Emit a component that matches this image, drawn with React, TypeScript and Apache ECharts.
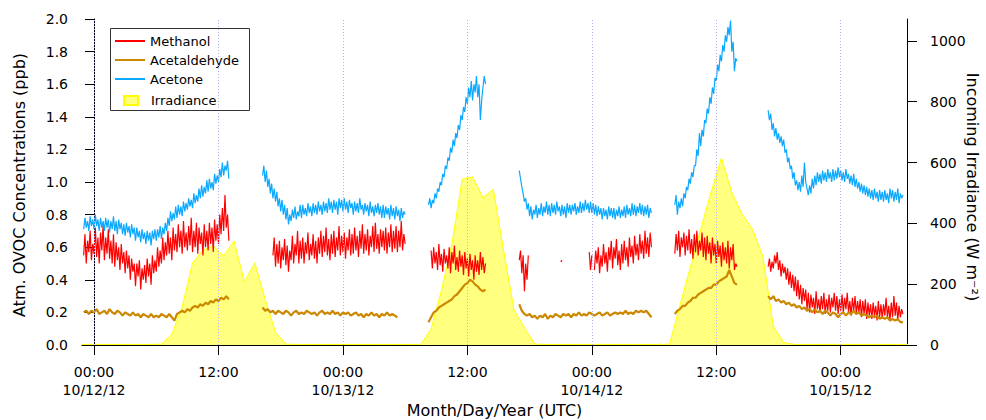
import React, { useEffect, useRef } from 'react';
import * as echarts from 'echarts';

// Time is expressed in hours since 10/12/12 00:00 UTC.
const X_MIN = -1.16;
const X_MAX = 78.39;

const TICK_HOURS = [0, 12, 24, 36, 48, 60, 72];
const TICK_LABELS = ['00:00\n10/12/12', '12:00', '00:00\n10/13/12', '12:00', '00:00\n10/14/12', '12:00', '00:00\n10/15/12'];

const CONC_TICKS = [0, 0.2, 0.4, 0.6, 0.8, 1.0, 1.2, 1.4, 1.6, 1.8, 2.0];
const IRR_TICKS = [0, 200, 400, 600, 800, 1000];

// Each run: [start hour, sample step (h), values in ppb]
type Run = [number, number, number[]];

const METHANOL: Run[] = [
  [-1, 0.125, [
    0.55, 0.68, 0.5, 0.64, 0.57, 0.7, 0.52, 0.62,
    0.56, 0.72, 0.54, 0.66, 0.5, 0.69, 0.58, 0.74,
    0.52, 0.66, 0.56, 0.71, 0.53, 0.64, 0.5, 0.68,
    0.48, 0.63, 0.52, 0.6, 0.46, 0.62, 0.5, 0.57,
    0.44, 0.58, 0.47, 0.55, 0.4, 0.53, 0.45, 0.5,
    0.36, 0.5, 0.42, 0.52, 0.34, 0.47, 0.4, 0.49,
    0.38, 0.53, 0.42, 0.5, 0.37, 0.55, 0.44, 0.52,
    0.45, 0.6, 0.48, 0.58, 0.5, 0.66, 0.52, 0.63,
    0.55, 0.7, 0.56, 0.66, 0.52, 0.72, 0.58, 0.68,
    0.57, 0.74, 0.6, 0.7, 0.56, 0.76, 0.6, 0.69,
    0.58, 0.73, 0.61, 0.78, 0.57, 0.7, 0.6, 0.75,
    0.56, 0.72, 0.62, 0.69, 0.55, 0.74, 0.6, 0.7,
    0.58, 0.75, 0.62, 0.72, 0.57, 0.77, 0.64, 0.74,
    0.62, 0.8, 0.68, 0.84, 0.7, 0.92, 0.72, 0.8,
    0.64,
  ]],
  [17.25, 0.125, [
    0.55, 0.66, 0.48, 0.62, 0.5, 0.64,
    0.47, 0.6, 0.52, 0.65, 0.49, 0.61, 0.45, 0.58,
    0.52, 0.67, 0.5, 0.62, 0.55, 0.7, 0.5, 0.64,
    0.53, 0.66, 0.5, 0.63, 0.56, 0.69, 0.52, 0.62,
    0.55, 0.68, 0.53, 0.64, 0.5, 0.66, 0.56, 0.7,
    0.54, 0.67, 0.57, 0.72, 0.55, 0.65, 0.52, 0.68,
    0.56, 0.7, 0.54, 0.66, 0.58, 0.73, 0.55, 0.67,
    0.57, 0.69, 0.53, 0.66, 0.58, 0.71, 0.55, 0.68,
    0.56, 0.72, 0.58, 0.67, 0.54, 0.7, 0.59, 0.74,
    0.56, 0.68, 0.58, 0.71, 0.55, 0.67, 0.6, 0.73,
    0.57, 0.75, 0.59, 0.68, 0.56, 0.71, 0.6, 0.7,
    0.58, 0.72, 0.56, 0.69, 0.6, 0.74, 0.57, 0.7,
    0.59, 0.73, 0.57, 0.7, 0.6, 0.76, 0.58, 0.68,
    0.62,
  ]],
  [32.5, 0.125, [
    0.58, 0.47, 0.6, 0.5,
    0.57, 0.46, 0.62, 0.49, 0.56, 0.45, 0.59, 0.5,
    0.55, 0.47, 0.6, 0.44, 0.57, 0.5, 0.61, 0.46,
    0.54, 0.45, 0.58, 0.48, 0.55, 0.43, 0.57, 0.47,
    0.53, 0.42, 0.56, 0.46, 0.52, 0.4, 0.55, 0.45,
    0.52, 0.43, 0.57, 0.46, 0.54, 0.44, 0.5,
  ]],
  [41.0, 0.125, [0.52, 0.58, 0.44, 0.55, 0.33, 0.5, 0.4, 0.55]],
  [45.0, 0.125, [0.51, 0.52]],
  [47.75, 0.125, [0.57, 0.46, 0.55]],
  [48.25, 0.125, [
    0.46, 0.58, 0.5, 0.6, 0.44, 0.55,
    0.48, 0.62, 0.5, 0.57, 0.45, 0.6, 0.52, 0.64,
    0.47, 0.6, 0.53, 0.65, 0.49, 0.58, 0.46, 0.62,
    0.5, 0.64, 0.52, 0.6, 0.48, 0.66, 0.54, 0.61,
    0.5, 0.67, 0.55, 0.62, 0.52, 0.68, 0.56, 0.64,
    0.53, 0.7, 0.56, 0.66, 0.54, 0.69, 0.6,
  ]],
  [56.0, 0.125, [
    0.56, 0.68, 0.58, 0.7, 0.54, 0.66, 0.6, 0.69,
    0.55, 0.67, 0.58, 0.71, 0.56, 0.65, 0.53, 0.68,
    0.57, 0.7, 0.55, 0.64, 0.58, 0.69, 0.54, 0.66,
    0.52, 0.67, 0.56, 0.63, 0.5, 0.66, 0.55, 0.62,
    0.5, 0.64, 0.54, 0.61, 0.48, 0.63, 0.52, 0.6,
    0.5, 0.64, 0.47, 0.6, 0.52, 0.62, 0.46, 0.5,
    0.48,
  ]],
  [65.0, 0.125, [
    0.48, 0.53, 0.45, 0.51, 0.47, 0.55, 0.5, 0.57,
    0.46, 0.52, 0.42, 0.5, 0.44, 0.48, 0.4, 0.47,
    0.37, 0.45, 0.35, 0.43, 0.33, 0.42, 0.3, 0.4,
    0.28, 0.37, 0.25, 0.35, 0.27, 0.34, 0.22, 0.32,
    0.2, 0.31, 0.23, 0.29, 0.19, 0.33, 0.22, 0.28,
    0.2, 0.3, 0.22, 0.32, 0.19, 0.28, 0.21, 0.31,
    0.2, 0.29, 0.23, 0.32, 0.21, 0.3, 0.19, 0.28,
    0.21, 0.31, 0.2, 0.29, 0.22, 0.32, 0.2, 0.27,
    0.18, 0.29, 0.21, 0.3, 0.19, 0.27, 0.2, 0.28,
    0.17, 0.27, 0.19, 0.28, 0.16, 0.26, 0.18, 0.25,
    0.16, 0.26, 0.18, 0.24, 0.15, 0.27, 0.17, 0.25,
    0.16, 0.25, 0.18, 0.29, 0.17, 0.24, 0.15, 0.26,
    0.17, 0.3, 0.18, 0.26, 0.15, 0.24, 0.17, 0.22,
    0.19,
  ]],
];

const ACETALDEHYDE: Run[] = [
  [-1, 0.25, [0.2, 0.21, 0.19, 0.21, 0.2, 0.22, 0.19, 0.2, 0.21, 0.19, 0.22, 0.2, 0.19, 0.21, 0.2, 0.18, 0.2, 0.19, 0.18, 0.2, 0.18, 0.19, 0.17, 0.19, 0.18, 0.17, 0.19, 0.17, 0.18, 0.17, 0.19, 0.18, 0.17, 0.19, 0.17, 0.15, 0.19, 0.2, 0.21, 0.2, 0.22, 0.21, 0.23, 0.24, 0.23, 0.25, 0.24, 0.26, 0.25, 0.27, 0.26, 0.28, 0.27, 0.29, 0.28, 0.3, 0.28]],
  [16.25, 0.25, [0.23, 0.21, 0.22, 0.2, 0.21, 0.19, 0.21, 0.2, 0.19, 0.21, 0.2, 0.18, 0.2, 0.21, 0.19, 0.2, 0.19, 0.21, 0.2, 0.19, 0.2, 0.18, 0.2, 0.21, 0.19, 0.2, 0.19, 0.21, 0.19, 0.2, 0.18, 0.2, 0.19, 0.2, 0.18, 0.19, 0.2, 0.18, 0.19, 0.17, 0.19, 0.18, 0.2, 0.18, 0.19, 0.17, 0.19, 0.18, 0.2, 0.18, 0.19, 0.18, 0.17]],
  [32.25, 0.25, [0.14, 0.17, 0.2, 0.21, 0.23, 0.24, 0.25, 0.26, 0.27, 0.28, 0.3, 0.31, 0.33, 0.35, 0.37, 0.38, 0.4, 0.39, 0.37, 0.36, 0.34, 0.33, 0.34]],
  [41.0, 0.25, [0.25, 0.21, 0.19, 0.18, 0.19, 0.17, 0.18, 0.16, 0.18, 0.17, 0.19, 0.16, 0.18, 0.17, 0.19, 0.18, 0.17, 0.19, 0.18, 0.19, 0.17, 0.19, 0.18, 0.2, 0.18, 0.19, 0.18, 0.2, 0.19, 0.18, 0.19, 0.2, 0.18, 0.19, 0.2, 0.18, 0.19, 0.2, 0.19, 0.2, 0.19, 0.21, 0.19, 0.2, 0.19, 0.21, 0.2, 0.21, 0.2, 0.21, 0.19, 0.17]],
  [56.0, 0.25, [0.19, 0.21, 0.22, 0.24, 0.24, 0.26, 0.27, 0.29, 0.29, 0.31, 0.32, 0.33, 0.34, 0.35, 0.35, 0.37, 0.37, 0.39, 0.4, 0.41, 0.42, 0.46, 0.42, 0.38, 0.37]],
  [65.0, 0.25, [0.3, 0.28, 0.3, 0.27, 0.28, 0.26, 0.27, 0.25, 0.26, 0.24, 0.25, 0.23, 0.24, 0.22, 0.23, 0.21, 0.22, 0.2, 0.22, 0.2, 0.21, 0.19, 0.21, 0.2, 0.18, 0.2, 0.19, 0.17, 0.19, 0.2, 0.18, 0.2, 0.19, 0.21, 0.19, 0.2, 0.18, 0.19, 0.18, 0.17, 0.18, 0.17, 0.18, 0.16, 0.17, 0.16, 0.17, 0.15, 0.16, 0.15, 0.16, 0.14, 0.14]],
];

const ACETONE: Run[] = [
  [-1, 0.125, [
    0.71, 0.78, 0.72, 0.76, 0.7, 0.79, 0.73, 0.77,
    0.71, 0.8, 0.73, 0.77, 0.7, 0.78, 0.72, 0.76,
    0.7, 0.78, 0.72, 0.77, 0.69, 0.76, 0.71, 0.79,
    0.7, 0.76, 0.68, 0.77, 0.71, 0.75, 0.68, 0.74,
    0.67, 0.75, 0.69, 0.73, 0.66, 0.74, 0.68, 0.72,
    0.64, 0.72, 0.66, 0.7, 0.63, 0.71, 0.65, 0.69,
    0.62, 0.7, 0.64, 0.69, 0.61, 0.7, 0.65, 0.71,
    0.64, 0.71, 0.66, 0.73, 0.65, 0.72, 0.68, 0.75,
    0.7, 0.78, 0.73, 0.82, 0.76, 0.81, 0.77, 0.85,
    0.78, 0.86, 0.8, 0.85, 0.79, 0.88, 0.82, 0.87,
    0.83, 0.9, 0.85, 0.89, 0.84, 0.93, 0.87, 0.92,
    0.88, 0.96, 0.9, 0.98, 0.91, 0.97, 0.93, 1.01,
    0.94, 1.02, 0.96, 1.0, 0.95, 1.05, 0.99, 1.04,
    1.0, 1.08, 1.03, 1.12, 1.04, 1.1, 1.07, 1.13,
    1.02,
  ]],
  [16.25, 0.125, [
    1.04, 1.1, 1.0, 1.07, 0.97, 1.02,
    0.93, 0.99, 0.9, 0.96, 0.88, 0.94, 0.85, 0.9,
    0.82, 0.89, 0.8, 0.86, 0.77, 0.84, 0.74, 0.8,
    0.76, 0.83, 0.78, 0.85, 0.77, 0.82, 0.79, 0.86,
    0.78, 0.86, 0.8, 0.84, 0.79, 0.87, 0.81, 0.85,
    0.79, 0.87, 0.81, 0.86, 0.8, 0.88, 0.82, 0.86,
    0.8, 0.88, 0.82, 0.87, 0.81, 0.9, 0.83, 0.88,
    0.81, 0.89, 0.83, 0.88, 0.8, 0.9, 0.84, 0.89,
    0.82, 0.9, 0.83, 0.88, 0.81, 0.89, 0.84, 0.87,
    0.8, 0.88, 0.82, 0.87, 0.81, 0.9, 0.83, 0.86,
    0.8, 0.87, 0.82, 0.86, 0.79, 0.88, 0.81, 0.85,
    0.79, 0.86, 0.81, 0.87, 0.8, 0.85, 0.78, 0.86,
    0.78, 0.85, 0.8, 0.84, 0.77, 0.86, 0.79, 0.84,
    0.77, 0.85, 0.79, 0.83, 0.76, 0.84, 0.78, 0.82,
    0.8,
  ]],
  [32.25, 0.125, [
    0.86, 0.9, 0.84, 0.89, 0.87, 0.93,
    0.9, 0.96, 0.94, 1.0, 0.98, 1.05, 1.03, 1.1,
    1.08, 1.15, 1.13, 1.21, 1.18, 1.26, 1.22, 1.3,
    1.27, 1.35, 1.32, 1.41, 1.38, 1.46, 1.43, 1.52,
    1.48, 1.58, 1.52, 1.62, 1.5, 1.6, 1.55, 1.65,
    1.52, 1.6, 1.38, 1.5, 1.58, 1.65, 1.6,
  ]],
  [41.0, 0.125, [
    1.07, 1.02, 0.97, 0.93, 0.88, 0.9, 0.83, 0.87,
    0.79, 0.85, 0.77, 0.83, 0.8, 0.86, 0.78, 0.84,
    0.8, 0.87, 0.79, 0.85, 0.81, 0.88, 0.8, 0.86,
    0.79, 0.87, 0.81, 0.86, 0.8, 0.88, 0.82, 0.85,
    0.79, 0.86, 0.8, 0.85, 0.78, 0.87, 0.81, 0.86,
    0.8, 0.86, 0.82, 0.87, 0.8, 0.85, 0.81, 0.88,
    0.81, 0.87, 0.82, 0.89, 0.83, 0.87, 0.81, 0.88,
    0.81, 0.87, 0.8, 0.86, 0.79, 0.85, 0.8, 0.84,
    0.77, 0.84, 0.79, 0.83, 0.77, 0.85, 0.79, 0.84,
    0.78, 0.84, 0.77, 0.83, 0.79, 0.85, 0.78, 0.83,
    0.79, 0.85, 0.78, 0.86, 0.8, 0.84, 0.79, 0.87,
    0.8, 0.86, 0.79, 0.85, 0.81, 0.87, 0.8, 0.86,
    0.79, 0.85, 0.8, 0.86, 0.78, 0.84, 0.81,
  ]],
  [56.0, 0.125, [
    0.86, 0.92, 0.8, 0.88, 0.84, 0.9, 0.85, 0.93,
    0.9, 0.97, 0.95, 1.02, 0.99, 1.06, 1.03, 1.1,
    1.1, 1.2, 1.16, 1.3, 1.22, 1.32, 1.28, 1.38,
    1.36, 1.45, 1.42, 1.52, 1.48, 1.58, 1.54, 1.64,
    1.62, 1.72, 1.68, 1.78, 1.74, 1.84, 1.8, 1.9,
    1.86, 1.95, 1.9, 1.99, 1.8, 1.86, 1.68, 1.76,
    1.74,
  ]],
  [65.0, 0.125, [
    1.44, 1.38, 1.42, 1.32, 1.36, 1.28, 1.33, 1.26,
    1.3, 1.24, 1.28, 1.22, 1.26, 1.18, 1.2, 1.12,
    1.15, 1.08, 1.1, 1.02, 1.06, 0.98, 1.01, 0.95,
    1.0, 0.94, 1.04, 0.97, 1.12, 1.0, 0.96, 0.92,
    0.98, 0.93, 1.02, 0.96, 1.04, 0.98, 1.06, 1.0,
    1.05, 0.99, 1.07, 1.01, 1.06, 1.0, 1.08, 1.02,
    1.06, 1.0, 1.08, 1.01, 1.07, 1.02, 1.09, 1.03,
    1.07, 1.01, 1.06, 1.0, 1.08, 1.02, 1.05, 0.99,
    1.04, 0.98, 1.05, 0.97, 1.02, 0.96, 1.0, 0.94,
    0.99, 0.93, 0.98, 0.92, 0.97, 0.91, 0.96, 0.9,
    0.95, 0.89, 0.96, 0.9, 0.94, 0.88, 0.95, 0.89,
    0.94, 0.88, 0.95, 0.89, 0.93, 0.87, 0.96, 0.9,
    0.95, 0.88, 0.94, 0.89, 0.96, 0.87, 0.93, 0.9,
    0.92,
  ]],
];

// Hourly incoming irradiance (W m-2), first value at -1.5 h
const IRR_START = -1.5;
const IRR_STEP = 1;
const IRRADIANCE = [
  2, 2, 2, 2, 2, 2, 2, 2, 3, 35, 125, 270, 312, 326, 293, 342, 208, 270, 150, 42, 3,
  2, 2, 2, 2, 2, 2, 2, 2, 2, 2, 2, 2,
  2, 52, 180, 330, 545, 553, 485, 512, 310, 115, 57, 3,
  2, 2, 2, 2, 2, 2, 2, 2, 2, 2,
  2, 2, 3, 131, 256, 381, 503, 615, 501, 430, 380, 290, 62, 8,
  2, 2, 2, 2, 2, 2, 2, 2, 2, 2, 2, 2,
];

const FONT = 'DejaVu Sans';
const COLORS = {
  methanol: '#ff0000',
  acetaldehyde: '#cc8800',
  acetone: '#0aa8ff',
  irrLine: '#ffff00',
  irrFill: '#ffff80',
  grid: '#b4b4f4',
};

function runsToData(runs: Run[]) {
  const out: (number | string)[][] = [];
  runs.forEach(([start, step, vals], k) => {
    if (k > 0) out.push([start - step / 2, '-']);
    vals.forEach((v, i) => out.push([start + i * step, v]));
  });
  return out;
}

const irrData = IRRADIANCE.map((v, i) => [IRR_START + i * IRR_STEP, v]);

const lineSeries = (name: string, runs: Run[], color: string, width: number) => ({
  name,
  type: 'line',
  data: runsToData(runs),
  showSymbol: false,
  symbol: 'none',
  connectNulls: false,
  z: 3,
  lineStyle: { color, width },
  itemStyle: { color },
});

const axisText = { fontFamily: FONT, color: '#000', fontSize: 14 };
const lineIcon = 'path://M0,0L30,0L30,2L0,2Z';

const option = {
  animation: false,
  backgroundColor: '#ffffff',
  textStyle: { fontFamily: FONT, color: '#000' },
  grid: { left: 82, right: 79, top: 19, bottom: 75, containLabel: false, outerBoundsMode: 'none' },
  legend: [
    {
      data: [
        { name: 'Methanol', icon: lineIcon },
        { name: 'Acetaldehyde', icon: lineIcon },
        { name: 'Acetone', icon: lineIcon },
      ],
      orient: 'vertical',
      left: 115,
      top: 34,
      padding: 0,
      itemWidth: 30,
      itemHeight: 14,
      itemGap: 5,
      selectedMode: false,
      textStyle: { fontFamily: FONT, fontSize: 13, color: '#000', lineHeight: 14 },
    },
    {
      data: [
        {
          name: 'Irradiance',
          icon: 'rect',
          itemStyle: { color: COLORS.irrFill, borderColor: COLORS.irrLine, borderWidth: 2 },
        },
      ],
      orient: 'vertical',
      left: 123,
      top: 93.5,
      padding: 0,
      itemWidth: 14,
      itemHeight: 9,
      selectedMode: false,
      textStyle: { fontFamily: FONT, fontSize: 13, color: '#000', lineHeight: 14, padding: [0, 0, 0, 8] },
    },
  ],
  graphic: [
    {
      type: 'rect',
      silent: true,
      z: 10,
      shape: { x: 110.5, y: 28.5, width: 139, height: 82 },
      style: { fill: 'none', stroke: '#333', lineWidth: 1 },
    },
  ],
  xAxis: {
    type: 'value',
    min: X_MIN,
    max: X_MAX,
    offset: 2,
    axisLine: { show: true, lineStyle: { color: '#000', width: 1 } },
    axisTick: { show: true, customValues: TICK_HOURS, length: 10, lineStyle: { color: '#000' } },
    axisLabel: {
      ...axisText,
      customValues: TICK_HOURS,
      margin: 16,
      lineHeight: 18,
      formatter: (v: number) => {
        const i = TICK_HOURS.indexOf(v);
        return i >= 0 ? TICK_LABELS[i] : '';
      },
    },
    splitLine: { show: false },
    name: 'Month/Day/Year (UTC)',
    nameLocation: 'middle',
    nameGap: 55,
    nameMoveOverlap: false,
    nameTextStyle: { fontFamily: FONT, fontSize: 16, color: '#000' },
  },
  yAxis: [
    {
      type: 'value',
      position: 'left',
      min: 0,
      max: 2,
      axisLine: { show: true, lineStyle: { color: '#000', width: 1 } },
      axisTick: { show: true, customValues: CONC_TICKS, length: 9, lineStyle: { color: '#000' } },
      axisLabel: { ...axisText, customValues: CONC_TICKS, margin: 14, formatter: (v: number) => v.toFixed(1) },
      splitLine: { show: false },
      name: 'Atm. OVOC Concentrations (ppb)',
      nameLocation: 'middle',
      nameGap: 55,
      nameMoveOverlap: false,
      nameTextStyle: { fontFamily: FONT, fontSize: 16, color: '#000', padding: [0, 6, 0, 0] },
    },
    {
      type: 'value',
      position: 'right',
      min: 0,
      max: 1072,
      axisLine: { show: true, lineStyle: { color: '#000', width: 1 } },
      axisTick: { show: true, customValues: IRR_TICKS, length: 10, lineStyle: { color: '#000' } },
      axisLabel: { ...axisText, customValues: IRR_TICKS, margin: 23, formatter: (v: number) => String(v) },
      splitLine: { show: false },
      name: 'Incoming Irradiance (W m⁻²)',
      nameLocation: 'middle',
      nameRotate: -90,
      nameGap: 57,
      nameMoveOverlap: false,
      nameTextStyle: { fontFamily: FONT, fontSize: 16, color: '#000', padding: [0, 0, 0, 10] },
    },
  ],
  series: [
    {
      name: 'gridlines',
      type: 'line',
      data: [],
      z: 1,
      silent: true,
      markLine: {
        silent: true,
        symbol: ['none', 'none'],
        label: { show: false },
        lineStyle: { color: COLORS.grid, type: [1, 2], width: 1 },
        data: TICK_HOURS.map((h) => ({ xAxis: h })),
      },
    },
    {
      name: 'Irradiance',
      type: 'line',
      yAxisIndex: 1,
      data: irrData,
      showSymbol: false,
      symbol: 'none',
      z: 2,
      lineStyle: { color: COLORS.irrLine, width: 1 },
      itemStyle: { color: COLORS.irrFill },
      areaStyle: { color: COLORS.irrFill, opacity: 1 },
    },
    lineSeries('Methanol', METHANOL, COLORS.methanol, 1.2),
    lineSeries('Acetone', ACETONE, COLORS.acetone, 1.2),
    lineSeries('Acetaldehyde', ACETALDEHYDE, COLORS.acetaldehyde, 2.2),
  ],
};

export default function App() {
  const ref = useRef<HTMLDivElement>(null);
  useEffect(() => {
    if (!ref.current) return;
    const chart = echarts.init(ref.current, undefined, { renderer: 'svg' });
    chart.setOption(option as any);
    return () => chart.dispose();
  }, []);
  return (
    <div
      ref={ref}
      style={{ position: 'fixed', left: 0, top: 0, width: 986, height: 420, background: '#ffffff' }}
    />
  );
}
